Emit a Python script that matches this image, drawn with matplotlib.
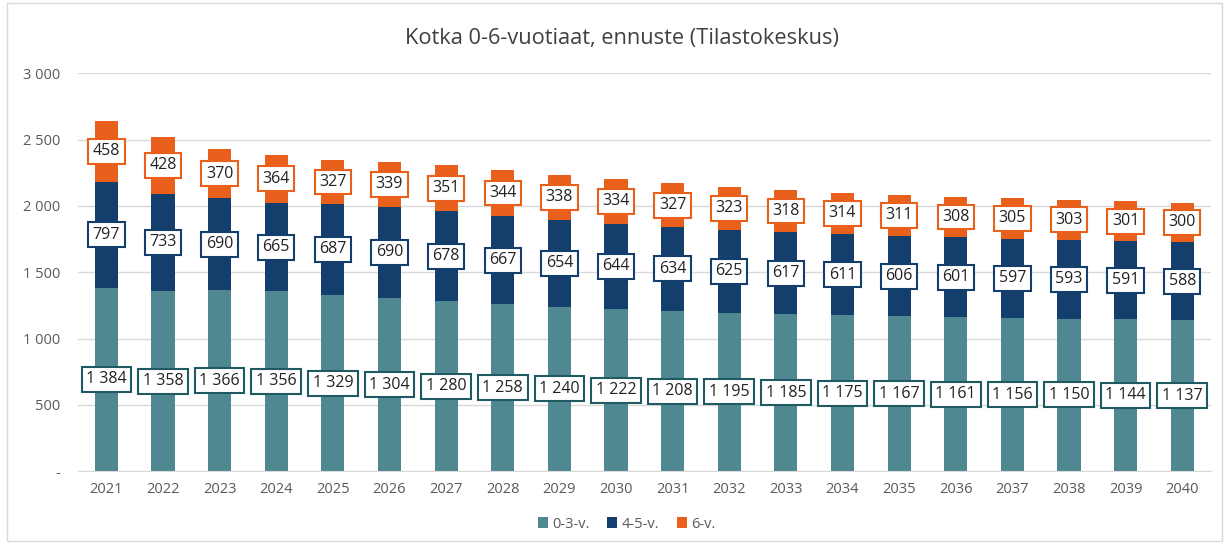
import matplotlib
matplotlib.use("Agg")
import matplotlib.pyplot as plt
from matplotlib.patches import Rectangle

years = [str(y) for y in range(2021, 2041)]
age_0_3 = [1384, 1358, 1366, 1356, 1329, 1304, 1280, 1258, 1240, 1222, 1208, 1195, 1185, 1175, 1167, 1161, 1156, 1150, 1144, 1137]
age_4_5 = [797, 733, 690, 665, 687, 690, 678, 667, 654, 644, 634, 625, 617, 611, 606, 601, 597, 593, 591, 588]
age_6 = [458, 428, 370, 364, 327, 339, 351, 344, 338, 334, 327, 323, 318, 314, 311, 308, 305, 303, 301, 300]
series_names = ["0-3-v.", "4-5-v.", "6-v."]
title = "Kotka 0-6-vuotiaat, ennuste (Tilastokeskus)"
yticks = [0, 500, 1000, 1500, 2000, 2500, 3000]

colors = ["#4F8891", "#143F6D", "#E8601C"]
edge_colors = ["#1F5A63", "#143F6D", "#E8601C"]

def fmt(v):
    return f"{v:,}".replace(",", " ")

plt.rcParams['font.family'] = ['Open Sans', 'DejaVu Sans']
fig = plt.figure(figsize=(12.29, 5.46), dpi=100)
ax = fig.add_axes([0.0635, 0.137, 0.9215, 0.729])

x = list(range(len(years)))
bottoms = [0] * len(years)
for vals, name, c, ec in zip([age_0_3, age_4_5, age_6], series_names, colors, edge_colors):
    ax.bar(x, vals, width=0.41, bottom=bottoms, color=c, label=name, zorder=2)
    for xi, b, v in zip(x, bottoms, vals):
        ax.text(xi, b + v / 2, fmt(v), ha='center', va='center', fontsize=11.5, color='#222222',
                zorder=3,
                bbox=dict(boxstyle='square,pad=0.28', facecolor='white', edgecolor=ec, linewidth=1.5))
    bottoms = [b + v for b, v in zip(bottoms, vals)]

ax.set_xlim(-0.5, len(years) - 0.5)
ax.set_ylim(0, 3000)
ax.set_xticks(x)
ax.set_xticklabels(years, fontsize=10.5, color='#595959')
ax.set_yticks(yticks)
ax.set_yticklabels(['-' if t == 0 else fmt(t) for t in yticks], fontsize=10.5, color='#595959')
ax.yaxis.grid(True, color='#D9D9D9', linewidth=1, zorder=0)
ax.set_axisbelow(True)
for s in ['top', 'right', 'left']:
    ax.spines[s].set_visible(False)
ax.spines['bottom'].set_color('#D9D9D9')
ax.tick_params(axis='x', length=0, pad=8)
ax.tick_params(axis='y', length=0, pad=13)

fig.text(0.506, 0.93, title, ha='center', va='center', fontsize=15.7, color='#404040')

fig.legend(loc='center', bbox_to_anchor=(0.51, 0.04), ncol=3, frameon=False,
           fontsize=10.5, handlelength=0.7, handleheight=0.7, handletextpad=0.3,
           columnspacing=1.2, labelcolor='#595959')

fig.patches.append(Rectangle((0.006, 0.01), 0.988, 0.985, transform=fig.transFigure,
                             fill=False, edgecolor='#D9D9D9', linewidth=1))

fig.savefig("out.png", dpi=100)
